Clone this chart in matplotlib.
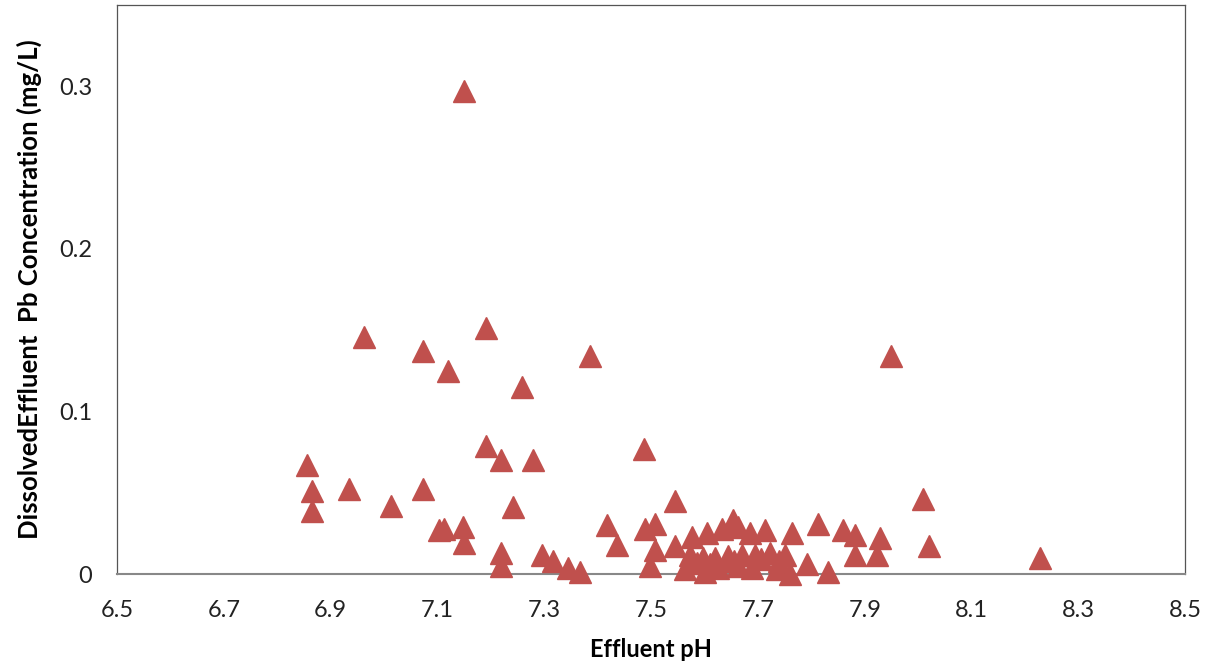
import matplotlib.pyplot as plt

# Effluent pH vs dissolved Pb
ph = [6.856, 6.865, 6.865, 6.934, 6.963, 7.013, 7.073, 7.073, 7.103, 7.112,
      7.120, 7.148, 7.150, 7.150, 7.190, 7.190, 7.219, 7.219, 7.219, 7.242,
      7.258, 7.279, 7.296, 7.316, 7.345, 7.367, 7.386, 7.418, 7.436, 7.487,
      7.489, 7.498, 7.507, 7.507, 7.545, 7.545, 7.577, 7.605, 7.633, 7.654,
      7.663, 7.685, 7.713, 7.764, 7.813, 7.860, 7.882, 7.882, 7.929, 7.923,
      7.949, 8.009, 8.021, 8.228,
      7.573, 7.597, 7.620, 7.644, 7.670, 7.695, 7.723, 7.751,
      7.564, 7.601, 7.625, 7.663, 7.689, 7.736, 7.760, 7.792, 7.832,
      7.585, 7.610, 7.655, 7.705, 7.740]
pb = [0.067, 0.051, 0.039, 0.052, 0.146, 0.042, 0.137, 0.052, 0.027, 0.028,
      0.125, 0.029, 0.019, 0.297, 0.151, 0.079, 0.070, 0.013, 0.005, 0.041,
      0.115, 0.070, 0.012, 0.008, 0.004, 0.001, 0.134, 0.030, 0.018, 0.077,
      0.028, 0.005, 0.031, 0.015, 0.045, 0.017, 0.023, 0.025, 0.028, 0.033,
      0.029, 0.025, 0.027, 0.025, 0.031, 0.027, 0.024, 0.012, 0.022, 0.012,
      0.134, 0.046, 0.017, 0.010,
      0.012, 0.010, 0.010, 0.011, 0.012, 0.012, 0.013, 0.012,
      0.003, 0.001, 0.004, 0.005, 0.004, 0.003, 0.000, 0.006, 0.001,
      0.007, 0.006, 0.008, 0.009, 0.008]

xticks = [6.5, 6.7, 6.9, 7.1, 7.3, 7.5, 7.7, 7.9, 8.1, 8.3, 8.5]
yticks = [0, 0.1, 0.2, 0.3]
ytick_labels = ["0", "0.1", "0.2", "0.3"]

plt.rcParams['font.family'] = ['Lato', 'DejaVu Sans']

fig = plt.figure(figsize=(12.07, 6.66), dpi=100)
ax = fig.add_axes([0.097, 0.138, 0.885, 0.855])

ax.plot(ph, pb, linestyle="none", marker="^", markersize=16,
        color="#C0504D", markeredgecolor="#C0504D", clip_on=False, zorder=3)

ax.set_xlim(6.5, 8.5)
ax.set_ylim(0, 0.35)
ax.set_xticks(xticks)
ax.set_xticklabels([f"{t:.1f}" for t in xticks])
ax.set_yticks(yticks)
ax.set_yticklabels(ytick_labels)
ax.tick_params(axis="both", length=0, labelsize=17, colors="#222222")
ax.tick_params(axis="x", pad=19)
ax.tick_params(axis="y", pad=18)

for side in ["top", "right", "left"]:
    ax.spines[side].set_color("#555555")
    ax.spines[side].set_linewidth(0.9)
ax.spines["bottom"].set_color("#888888")
ax.spines["bottom"].set_linewidth(1.5)

ax.set_xlabel("Effluent pH", fontsize=17, fontweight="bold", labelpad=12)
ax.set_ylabel("DissolvedEffluent  Pb Concentration (mg/L)", fontsize=18.5,
              fontweight="bold", labelpad=12)

fig.savefig("out.png", dpi=100)
